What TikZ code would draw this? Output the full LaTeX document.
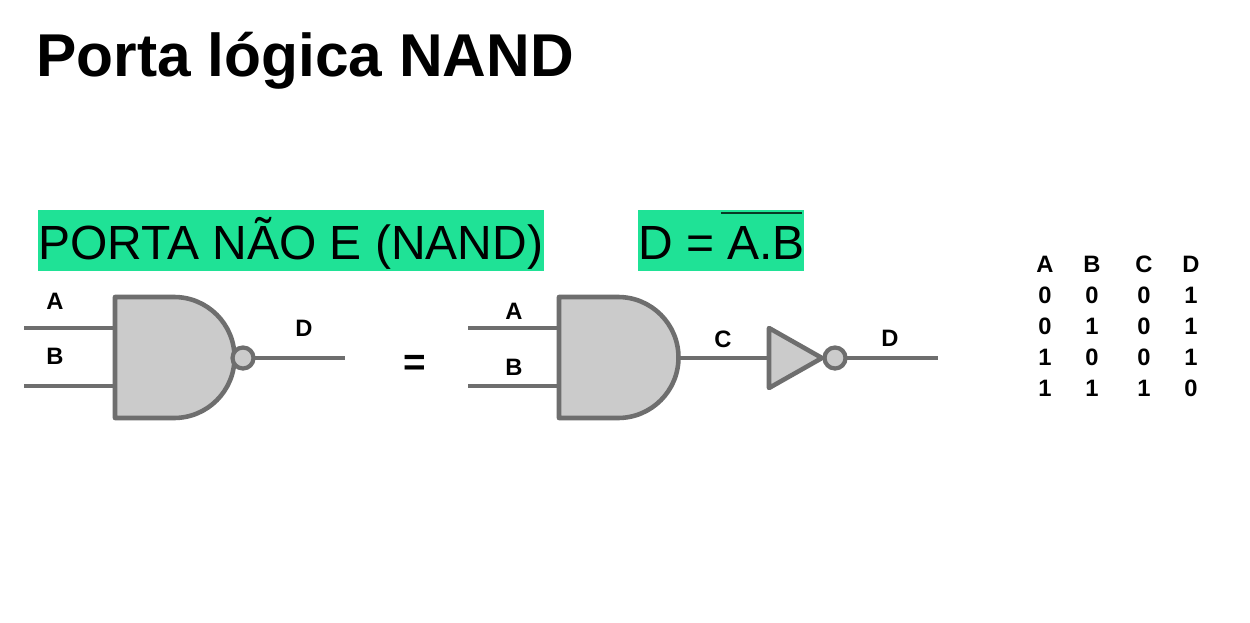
\documentclass[tikz,border=0pt]{standalone}
\usepackage{fontspec}
\setmainfont{Liberation Sans}
\newfontfamily\bodyfont{Liberation Sans}
\definecolor{hlgreen}{HTML}{1FE296}
\definecolor{gateline}{HTML}{6E6E6E}
\definecolor{gatefill}{HTML}{CBCBCB}
\tikzset{
  wire/.style={draw=gateline,line width=2.5pt},
  gatebody/.style={draw=gateline,fill=gatefill,line width=2.6pt,line join=round},
  bubble/.style={circle,draw=gateline,fill=gatefill,line width=2.4pt,inner sep=0pt,minimum size=.42cm},
  hlbox/.style={fill=hlgreen,inner sep=0pt,anchor=north west},
  heading/.style={font=\bodyfont\fontsize{27.3}{30}\selectfont,inner sep=0pt,anchor=base west},
  pinlabel/.style={font=\bfseries\fontsize{13.5}{14}\selectfont,inner sep=0pt},
}
\begin{document}
\begin{tikzpicture}[x=.2mm,y=-.2mm]
\useasboundingbox(0,0)rectangle(1250,623);
\fill[white](0,0)rectangle(1250,623);
\node[font=\bfseries\fontsize{34.4}{38}\selectfont,inner sep=0pt,anchor=base west](title)at(36,77){Porta lógica NAND};
% green bars
\node[hlbox,minimum width=506*.2mm,minimum height=61*.2mm](bar1)at(38,210){};
\node[hlbox,minimum width=166*.2mm,minimum height=61*.2mm](bar2)at(638,210){};
\node[heading](name)at(38,259){PORTA NÃO E (NAND)};
\node[heading](expr)at(638,259){D = A.B};
\coordinate(barL)at(721,213);
\coordinate(barR)at(802,213);
\draw[black!75!hlgreen,line width=1pt](barL)--(barR);
% gate on the left
\begin{scope}
\coordinate(a1)at(24,328);
\coordinate(a2)at(115,328);
\coordinate(b1)at(24,386);
\coordinate(b2)at(115,386);
\coordinate(o1)at(243,358);
\coordinate(d1)at(345,358);
\draw[wire](a1)--(a2);
\draw[wire](b1)--(b2);
\draw[wire](o1)--(d1);
\path[gatebody](115,297)--(174,297)arc(-90:90:60.5)--(115,418)--cycle;
\node[bubble](inv1)at(o1){};
\node[pinlabel](la1)at(55,301){A};
\node[pinlabel](lb1)at(55,356){B};
\node[pinlabel](ld1)at(304,328){D};
\end{scope}
\node[font=\bfseries\fontsize{22}{24}\selectfont,inner sep=0pt](eq)at(415,365){=};
% gate and inverter
\begin{scope}
\coordinate(a3)at(468,328);
\coordinate(a4)at(559,328);
\coordinate(b3)at(468,386);
\coordinate(b4)at(559,386);
\coordinate(c1)at(678,358);
\coordinate(c2)at(769,358);
\coordinate(o2)at(835,358);
\coordinate(d2)at(938,358);
\draw[wire](a3)--(a4);
\draw[wire](b3)--(b4);
\draw[wire](c1)--(c2);
\draw[wire](o2)--(d2);
\path[gatebody](559,297)--(618,297)arc(-90:90:60.5)--(559,418)--cycle;
\path[gatebody](769,328)--(822,358)--(769,388)--cycle;
\node[bubble](inv2)at(o2){};
\node[pinlabel](la2)at(514,311){A};
\node[pinlabel](lb2)at(514,367){B};
\node[pinlabel](lc2)at(723,339){C};
\node[pinlabel](ld2)at(890,338){D};
\end{scope}
% truth table
\foreach \c/\x/\p/\q/\r/\s in {A/1045/0/0/1/1,B/1092/0/1/0/1,C/1144/0/0/0/1,D/1191/1/1/1/0}{
  \node[pinlabel](head\c)at(\x,264){\c};
  \node[pinlabel](row\c1)at(\x,295){\p};
  \node[pinlabel](row\c2)at(\x,326){\q};
  \node[pinlabel](row\c3)at(\x,357){\r};
  \node[pinlabel](row\c4)at(\x,388){\s};
}
\end{tikzpicture}
\end{document}
